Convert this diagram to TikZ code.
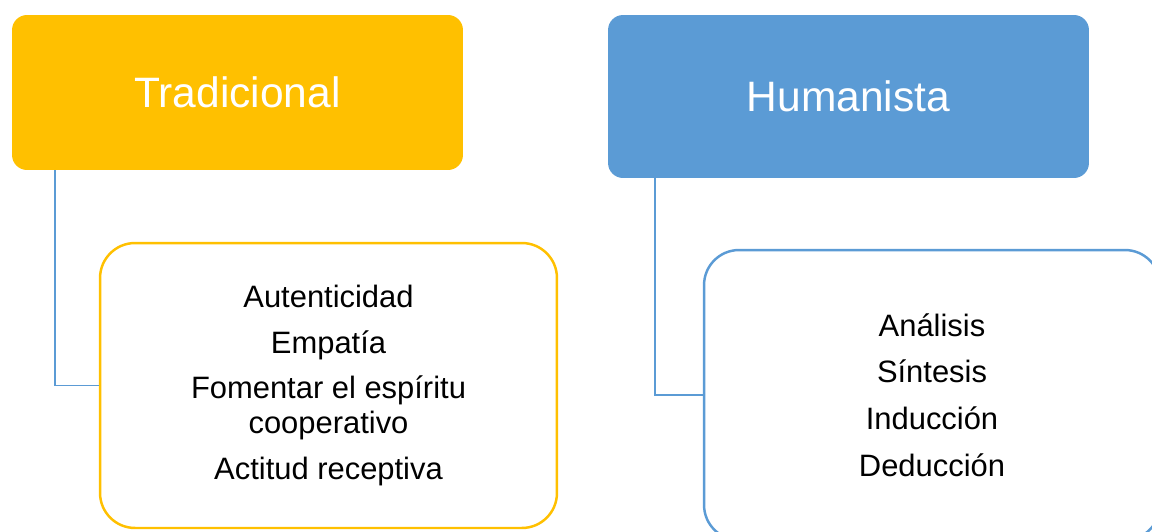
\documentclass[tikz,border=0pt]{standalone}
\usepackage{fontspec}
\setmainfont{Liberation Sans}

\definecolor{gold}{HTML}{FFC000}
\definecolor{steel}{HTML}{5B9BD5}

\begin{document}
\begin{tikzpicture}[x = 0.02cm, y = -0.02cm,
	header/.style = {rounded corners = 0.3cm, inner sep = 0pt, text = white,
		font = \fontsize{24.2}{28}\selectfont},
	item box/.style = {fill = white, line width = 1.4pt, rounded corners = 0.7cm,
		inner sep = 0pt, align = center, font = \fontsize{17.6}{19.8}\selectfont},
	link/.style = {draw = steel, line width = 1.1pt}]
\useasboundingbox (0,0) rectangle (1152, 531);
\clip (0,0) rectangle (1152, 531);

\node [header, fill = gold, minimum width = 9.02cm, minimum height = 3.1cm] (trad) at (237.5, 92.5) {Tradicional};
\node [header, fill = steel, minimum width = 9.62cm, minimum height = 3.26cm] (human) at (848.5, 96.5) {Humanista};

\node [item box, draw = gold, minimum width = 9.14cm, minimum height = 5.7cm] (tradItems) at (328.5, 385.5)
	{Autenticidad\\[6.2pt] Empatía\\[6.2pt] Fomentar el espíritu\\ cooperativo\\[6.2pt] Actitud receptiva};
\node [item box, draw = steel, minimum width = 9.12cm, minimum height = 5.8cm] (humanItems) at (932, 395)
	{Análisis\\[6.7pt] Síntesis\\[6.7pt] Inducción\\[6.7pt] Deducción};

\draw [link] ([xshift = 0.86cm] trad.south west) |- (tradItems.west);
\draw [link] ([xshift = 0.94cm] human.south west) |- (humanItems.west);

\end{tikzpicture}
\end{document}
